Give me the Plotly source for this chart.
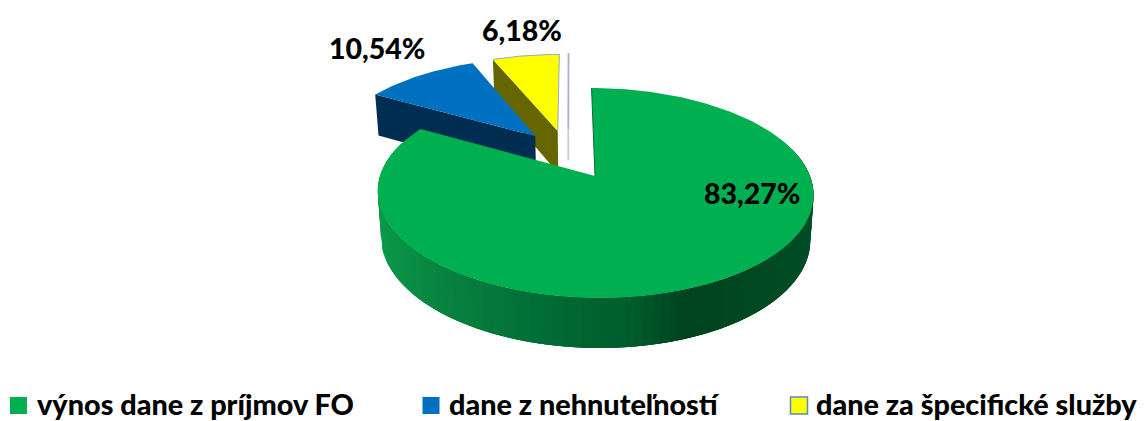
import math
import plotly.graph_objects as go

# ---- data ----
categories = ["výnos dane z príjmov FO", "dane z nehnuteľností", "dane za špecifické služby"]
values = [83.27, 10.54, 6.18]
top_colors = ["#00B050", "#0070C0", "#FFFF00"]
face_colors = ["#00602E", "#002E52", "#666600"]

# ---- 3D projection of the pie (style/geometry) ----
CX, CY = 595.0, 176.0
RX, RY = 215.0, 102.2
PERSP, SHEAR = 0.162, -4.0
DEPTH, DEPTH_GROW, SHRINK = 44.6, 0.0446, 0.985
offsets = [(0.0, 0.0), (-0.289, 0.418), (-0.178, 0.474)]
zero_offset = (-0.125, 0.494)
side_stops = [(378, (10, 154, 74)), (450, (8, 130, 64)), (550, (0, 108, 54)),
              (640, (0, 90, 44)), (688, (0, 66, 30)), (812, (0, 78, 38))]
LABEL_FONT = "Lato, Carlito, Calibri, sans-serif"


def project(u, v):
    d = 1 + PERSP * v
    return CX + (RX * u + SHEAR * v) / d, CY - RY * v / d


def lower(p):
    x, y = p
    return CX + (x - CX) * SHRINK, y + DEPTH + DEPTH_GROW * (y - CY)


def rim(theta, off):
    t = math.radians(theta)
    return project(off[0] + math.sin(t), off[1] + math.cos(t))


def side_color(x):
    if x <= side_stops[0][0]:
        c = side_stops[0][1]
    elif x >= side_stops[-1][0]:
        c = side_stops[-1][1]
    else:
        for (x0, c0), (x1, c1) in zip(side_stops, side_stops[1:]):
            if x0 <= x <= x1:
                f = (x - x0) / (x1 - x0)
                c = tuple(round(a + (b - a) * f) for a, b in zip(c0, c1))
                break
    return "rgb(%d,%d,%d)" % c


def poly(pts, color):
    xs = [p[0] for p in pts] + [pts[0][0]]
    ys = [p[1] for p in pts] + [pts[0][1]]
    return go.Scatter(x=xs, y=ys, mode="lines", fill="toself", fillcolor=color,
                      line=dict(width=0), hoverinfo="skip", showlegend=False)


def path(pts, color, width):
    return go.Scatter(x=[p[0] for p in pts], y=[p[1] for p in pts], mode="lines",
                      line=dict(color=color, width=width), hoverinfo="skip", showlegend=False)


total = sum(values)
spans = []
start = 0.0
for v in values:
    end = start + v / total * 360
    spans.append((start, end))
    start = end

fig = go.Figure()

# zero-value sliver behind everything
zo = zero_offset
z_top, z_apex = project(zo[0], zo[1] + 1), project(zo[0], zo[1])
z_end = (z_apex[0], z_apex[1] + (lower(z_apex)[1] - z_apex[1]) * 0.73)
fig.add_trace(path([z_top, z_apex], "#B4ACCB", 1.8))
fig.add_trace(path([z_apex, z_end], "#CBCBD6", 1.8))

# yellow, blue, then green (painter's order: back to front)
for i in (2, 1):
    a, b = spans[i]
    off = offsets[i]
    apex = project(*off)
    n = 40
    arc = [rim(a + (b - a) * k / n, off) for k in range(n + 1)]
    fig.add_trace(poly([arc[0], apex, lower(apex), lower(arc[0])], face_colors[i]))
    fig.add_trace(poly([apex] + arc, top_colors[i]))
    if i == 2:
        fig.add_trace(path(arc + [apex], "#9AA8C4", 1))

# green rim with gradient strips: each strip reaches well into the next, so no seams show
a, b = spans[0]
off = offsets[0]
n = 110
lo, hi = 70.0, min(b, 290.0)
step = (hi - lo) / n
for k in range(n):
    t0 = lo + step * k
    col = side_color(lower(rim(t0, off))[0])
    t_end = min(t0 + step * 3, hi)
    pts = [rim(t0 + (t_end - t0) * j / 6, off) for j in range(7)]
    fig.add_trace(poly(pts + [lower(p) for p in reversed(pts)], col))

apex = project(*off)
n = 200
arc = [rim(a + (b - a) * k / n, off) for k in range(n + 1)]
fig.add_trace(poly([apex] + arc, top_colors[0]))
fig.add_trace(path([arc[0], apex], "#0B6B3A", 1))

# legend swatches
legend_x = [18.5, 431, 799]
legend_text_x = [34.5, 447, 814]
legend_y = 405.5
legend_text_y = 403.7
for i, c in enumerate(categories):
    fig.add_trace(go.Scatter(
        x=[legend_x[i]], y=[legend_y], mode="markers", hoverinfo="skip", showlegend=False,
        marker=dict(symbol="square", size=17, color=top_colors[i],
                    line=dict(color="#5B86BE" if i == 2 else top_colors[i], width=1.5 if i == 2 else 0))))
    fig.add_annotation(x=legend_text_x[i], y=legend_text_y, text=c, showarrow=False, xanchor="left",
                       yanchor="middle", xref="x", yref="y",
                       font=dict(family=LABEL_FONT, size=28.8, color="#000000", weight=900))

# data labels
label_pos = [(752, 193), (377, 48), (522, 30)]
for v, (x, y) in zip(values, label_pos):
    fig.add_annotation(x=x, y=y, text=f"{v:.2f}".replace(".", ",") + "%", showarrow=False,
                       xref="x", yref="y", font=dict(family=LABEL_FONT, size=28.5, color="#000000", weight=900))

fig.update_layout(
    width=1146, height=421, margin=dict(l=0, r=0, t=0, b=0),
    paper_bgcolor="white", plot_bgcolor="white", showlegend=False,
    xaxis=dict(range=[0, 1146], visible=False, fixedrange=True),
    yaxis=dict(range=[421, 0], visible=False, fixedrange=True),
)
fig.write_html("out.html", config={"displayModeBar": False},
               post_script="document.body.style.margin='0';document.body.style.overflow='hidden';")
